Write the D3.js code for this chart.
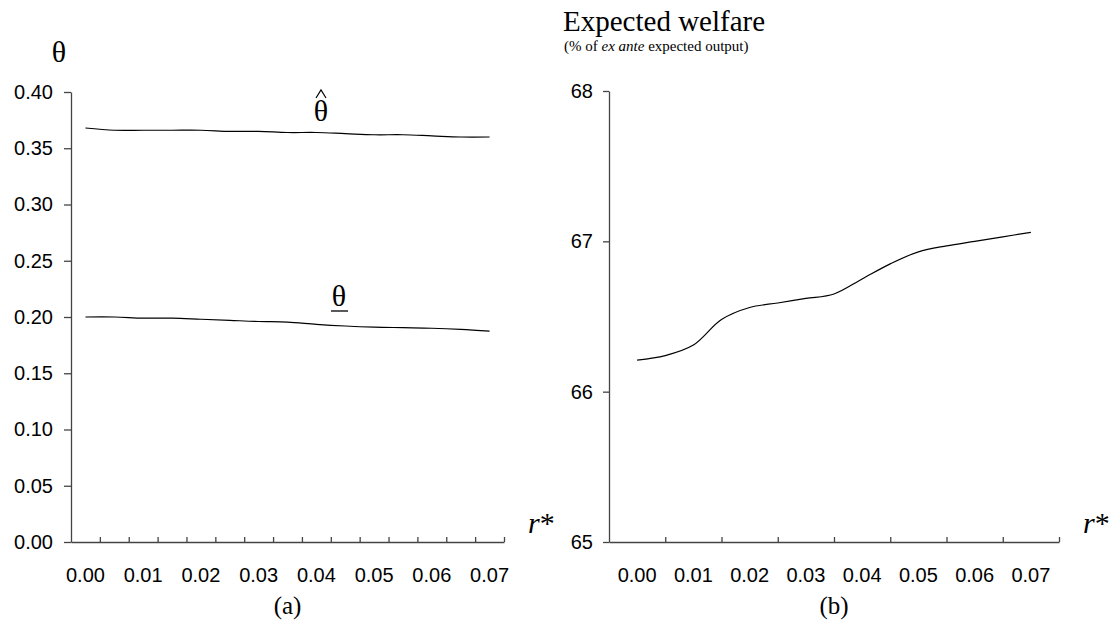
<!DOCTYPE html>
<html>
<head>
<meta charset="utf-8">
<script src="https://cdn.jsdelivr.net/npm/d3@7"></script>
<style>
body { margin: 0; background: #fff; }
svg { display: block; }
</style>
</head>
<body>
<svg id="chart" width="1112" height="636"></svg>
<script>
// r* grid used by both panels
var rValues = [0.000, 0.005, 0.010, 0.015, 0.020, 0.025, 0.030, 0.035,
               0.040, 0.045, 0.050, 0.055, 0.060, 0.065, 0.070];

// panel (a)
var thetaHat = [0.368, 0.366, 0.366, 0.366, 0.366, 0.365, 0.365, 0.364,
                0.364, 0.363, 0.362, 0.362, 0.361, 0.360, 0.360];
var thetaLow = [0.200, 0.200, 0.199, 0.199, 0.198, 0.197, 0.196, 0.1955,
                0.1935, 0.192, 0.191, 0.1905, 0.190, 0.189, 0.1875];

// panel (b)
var welfare = [66.21, 66.24, 66.31, 66.48, 66.56, 66.59, 66.62, 66.65,
               66.75, 66.85, 66.93, 66.97, 67.00, 67.03, 67.06];

var thetaTicks = [0, 0.05, 0.10, 0.15, 0.20, 0.25, 0.30, 0.35, 0.40];
var welfareTicks = [65, 66, 67, 68];
var rTickLabels = [0.00, 0.01, 0.02, 0.03, 0.04, 0.05, 0.06, 0.07];

var svg = d3.select('#chart');
var sans = '"Liberation Sans", Arial, sans-serif';
var serif = '"Liberation Serif", "Times New Roman", serif';
var axisColor = '#444';

var baseY = 542;

function styleAxis(g) {
    g.selectAll('path, line').attr('stroke', axisColor).attr('stroke-width', 1.3);
    g.selectAll('text').attr('font-family', sans).attr('font-size', 20).attr('fill', '#000');
}

// ---------- panel (a) ----------
var xa = d3.scaleLinear().domain([-0.0025, 0.0725]).range([71, 504]);
var ya = d3.scaleLinear().domain([0, 0.40]).range([baseY, 92]);

var aBounds = d3.range(1, 16).map(function(k) { return -0.0025 + 0.005 * k; });

svg.append('g')
    .attr('transform', 'translate(0,' + baseY + ')')
    .call(d3.axisBottom(xa).tickValues(aBounds).tickSize(-5).tickSizeOuter(0).tickFormat(''))
    .call(styleAxis);

svg.append('g')
    .attr('transform', 'translate(71,0)')
    .call(d3.axisLeft(ya).tickValues(thetaTicks).tickSize(7).tickSizeOuter(0)
        .tickPadding(11).tickFormat(d3.format('.2f')))
    .call(styleAxis);

svg.append('g').selectAll('text')
    .data(rTickLabels)
    .enter().append('text')
    .attr('x', function(d) { return xa(d); })
    .attr('y', 582)
    .attr('text-anchor', 'middle')
    .attr('font-family', sans)
    .attr('font-size', 20)
    .text(d3.format('.2f'));

var lineA = function(vals) {
    return d3.line()
        .x(function(d, i) { return xa(rValues[i]); })
        .y(function(d) { return ya(d); })
        .curve(d3.curveCatmullRom)(vals);
};

[thetaHat, thetaLow].forEach(function(s) {
    svg.append('path')
        .attr('d', lineA(s))
        .attr('fill', 'none')
        .attr('stroke', '#000')
        .attr('stroke-width', 1.2);
});

// ---------- panel (b) ----------
var xb = d3.scaleLinear().domain([-0.005, 0.075]).range([609, 1059]);
var yb = d3.scaleLinear().domain([65, 68]).range([baseY, 91]);

var bBounds = d3.range(1, 9).map(function(k) { return -0.005 + 0.01 * k; });

svg.append('g')
    .attr('transform', 'translate(0,' + baseY + ')')
    .call(d3.axisBottom(xb).tickValues(bBounds).tickSize(-5).tickSizeOuter(0).tickFormat(''))
    .call(styleAxis);

svg.append('g')
    .attr('transform', 'translate(609,0)')
    .call(d3.axisLeft(yb).tickValues(welfareTicks).tickSize(6).tickSizeOuter(0)
        .tickPadding(10).tickFormat(d3.format('d')))
    .call(styleAxis);

svg.append('g').selectAll('text')
    .data(rTickLabels)
    .enter().append('text')
    .attr('x', function(d) { return xb(d); })
    .attr('y', 582)
    .attr('text-anchor', 'middle')
    .attr('font-family', sans)
    .attr('font-size', 20)
    .text(d3.format('.2f'));

svg.append('path')
    .attr('d', d3.line()
        .x(function(d, i) { return xb(rValues[i]); })
        .y(function(d) { return yb(d); })
        .curve(d3.curveCatmullRom)(welfare))
    .attr('fill', 'none')
    .attr('stroke', '#000')
    .attr('stroke-width', 1.2);

// ---------- labels ----------
function label(x, y, txt, size, anchor) {
    return svg.append('text')
        .attr('x', x).attr('y', y)
        .attr('font-family', serif)
        .attr('font-size', size)
        .attr('text-anchor', anchor || 'middle')
        .text(txt);
}

label(59, 62, 'θ', 30);

// theta hat (caret drawn as a small stroke above the glyph)
label(321, 121, 'θ', 30);
svg.append('path')
    .attr('d', 'M316,98 L321,90 L326,98')
    .attr('fill', 'none')
    .attr('stroke', '#000')
    .attr('stroke-width', 1.2);

// theta underbar
label(339, 306, 'θ', 30);
svg.append('line')
    .attr('x1', 331).attr('x2', 348)
    .attr('y1', 311).attr('y2', 311)
    .attr('stroke', '#000').attr('stroke-width', 1.3);

// r* axis names
[528, 1083].forEach(function(x) {
    var t = svg.append('text')
        .attr('x', x).attr('y', 533)
        .attr('font-family', serif)
        .attr('font-size', 30);
    t.append('tspan').attr('font-style', 'italic').text('r');
    t.append('tspan').text('*');
});

label(563, 31, 'Expected welfare', 29, 'start');
var sub = svg.append('text')
    .attr('x', 564).attr('y', 51)
    .attr('font-family', serif)
    .attr('font-size', 15);
sub.append('tspan').text('(% of ');
sub.append('tspan').attr('font-style', 'italic').text('ex ante');
sub.append('tspan').text(' expected output)');

label((xa.range()[0] + xa.range()[1]) / 2, 614, '(a)', 25);
label((xb.range()[0] + xb.range()[1]) / 2, 614, '(b)', 25);
</script>
</body>
</html>
